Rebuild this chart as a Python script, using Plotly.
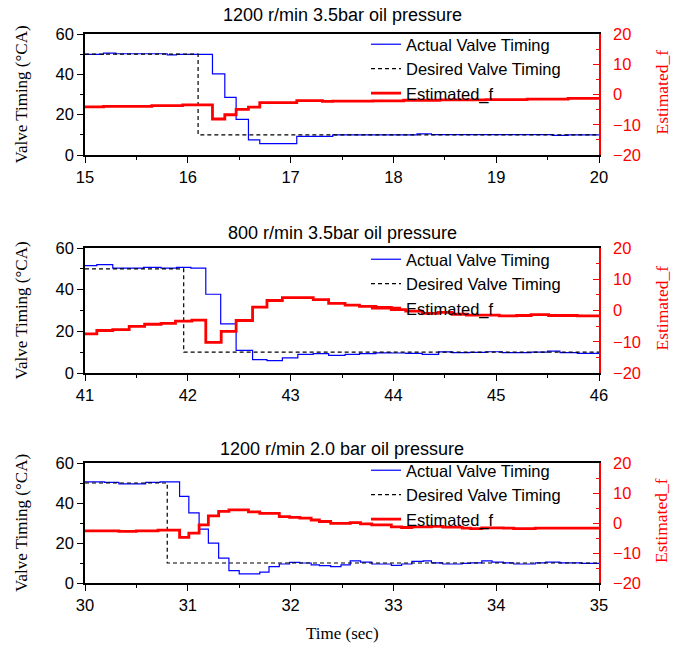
import plotly.graph_objects as go

# ---------------- data ----------------
# Panel 1: 1200 r/min 3.5bar oil pressure
act1_t = [15.0, 15.18, 15.30, 15.80, 15.89, 16.24, 16.36, 16.47, 16.59, 16.70, 17.06, 17.41, 18.23, 18.37, 19.55, 19.70, 20.0]
act1_v = [49.9, 50.5, 50.2, 49.6, 49.9, 40.2, 28.6, 17.7, 7.5, 5.6, 9.2, 10.0, 10.5, 10.1, 9.7, 10.0, 10.0]
des1_t = [15.0, 16.10, 20.0]
des1_v = [50.0, 10.0, 10.0]
est1_t = [15.0, 15.18, 15.65, 15.95, 16.24, 16.36, 16.47, 16.59, 16.70, 17.06, 17.31, 17.41, 17.80, 18.10, 18.45, 18.90, 19.30, 19.70, 20.0]
est1_f = [-4.1, -3.9, -3.7, -3.4, -8.1, -6.7, -4.9, -4.2, -2.7, -2.0, -2.3, -2.2, -2.1, -1.9, -1.8, -1.7, -1.5, -1.3, -1.3]

# Panel 2: 800 r/min 3.5bar oil pressure
act2_t = [41.0, 41.115, 41.27, 41.57, 41.74, 41.89, 42.03, 42.175, 42.32, 42.47, 42.63, 42.77, 42.92, 43.07,
          43.22, 43.37, 43.53, 43.67, 43.83, 43.98, 44.12, 44.28, 44.44, 44.57, 44.74, 44.90, 45.06, 45.20,
          45.34, 45.50, 45.62, 45.79, 46.0]
act2_v = [51.5, 52.0, 50.3, 50.7, 50.3, 50.7, 50.3, 37.8, 23.6, 10.9, 6.4, 5.9, 7.3, 8.9,
          9.3, 8.5, 8.9, 9.3, 9.7, 9.6, 9.4, 8.9, 10.1, 9.8, 9.9, 10.2, 9.8, 9.8,
          10.0, 10.5, 9.8, 9.4, 9.4]
des2_t = [41.0, 41.96, 46.0]
des2_v = [50.0, 10.0, 10.0]
est2_t = [41.0, 41.115, 41.27, 41.43, 41.58, 41.74, 41.88, 42.04, 42.175, 42.325, 42.47, 42.63, 42.77, 42.92,
          43.22, 43.37, 43.53, 43.67, 43.83, 43.98, 44.12, 44.28, 44.435, 44.57, 44.71, 45.03, 45.20, 45.34,
          45.51, 45.79, 46.0]
est2_f = [-7.5, -6.4, -6.1, -5.1, -4.4, -4.1, -3.4, -3.1, -10.2, -6.7, -3.2, 1.1, 3.2, 4.1,
          3.5, 2.3, 1.7, 1.3, 1.0, 0.3, -0.2, -0.9, -0.6, -1.2, -1.5, -1.7, -1.6, -1.3,
          -1.6, -1.7, -1.7]

# Panel 3: 1200 r/min 2.0 bar oil pressure
act3_t = [30.0, 30.19, 30.33, 30.59, 30.73, 30.92, 31.01, 31.11, 31.20, 31.30, 31.40, 31.50, 31.70, 31.79,
          31.89, 31.99, 32.09, 32.20, 32.28, 32.39, 32.49, 32.58, 32.68, 32.79, 32.98, 33.08, 33.18, 33.29,
          33.37, 33.48, 33.67, 33.75, 33.86, 33.96, 34.07, 34.17, 34.38, 34.48, 34.62, 34.83, 35.0]
act3_v = [50.6, 50.3, 49.6, 50.3, 50.6, 43.3, 35.1, 26.9, 19.9, 12.4, 6.2, 4.6, 5.4, 8.2,
          9.5, 10.3, 10.0, 9.1, 8.7, 8.2, 9.1, 11.1, 10.4, 9.5, 8.8, 9.5, 10.8, 11.1,
          10.1, 9.5, 9.8, 10.1, 11.1, 10.4, 10.1, 9.5, 10.1, 10.4, 10.1, 9.8, 9.8]
des3_t = [30.0, 30.80, 35.0]
des3_v = [50.0, 10.0, 10.0]
est3_t = [30.0, 30.33, 30.50, 30.71, 30.92, 31.01, 31.11, 31.20, 31.30, 31.40, 31.59, 31.70, 31.89, 31.99,
          32.09, 32.20, 32.28, 32.39, 32.58, 32.68, 32.79, 32.98, 33.08, 33.18, 33.37, 33.48, 33.67, 33.75,
          33.86, 34.07, 34.17, 34.38, 35.0]
est3_f = [-2.6, -2.8, -2.6, -2.4, -4.8, -3.35, -0.6, 2.4, 3.9, 4.4, 3.7, 3.2, 2.1, 1.9,
          1.6, 1.0, 0.5, -0.1, 0.1, -0.3, -0.6, -1.3, -1.5, -1.3, -1.1, -1.4, -1.7, -1.9,
          -1.6, -1.7, -1.9, -1.7, -1.7]

titles = ["1200 r/min 3.5bar oil pressure", "800 r/min 3.5bar oil pressure", "1200 r/min 2.0 bar oil pressure"]
x_ranges = [[15, 20], [41, 46], [30, 35]]
series = [
    (act1_t, act1_v, des1_t, des1_v, est1_t, est1_f),
    (act2_t, act2_v, des2_t, des2_v, est2_t, est2_f),
    (act3_t, act3_v, des3_t, des3_v, est3_t, est3_f),
]

# ---------------- layout geometry ----------------
W, H = 680, 649
x_left_px, x_right_px = 85, 599
panels_px = [(34, 155), (248, 373), (463, 583)]   # (top, bottom) in pixels
title_y_px = [15, 233, 449]
legend_top_px = [27, 242, 453]

def py(p):
    return 1 - p / H

def pxx(p):
    return p / W

fig = go.Figure()
layout = dict(
    width=W, height=H, autosize=False,
    margin=dict(l=0, r=0, t=0, b=0, pad=0, autoexpand=False),
    paper_bgcolor="white", plot_bgcolor="white",
    showlegend=True,
)
annotations = []
tickfont = dict(family="Liberation Sans, Arial", size=16.5, color="black")
redfont = dict(family="Liberation Sans, Arial", size=16.5, color="#FF0000")

for i in range(3):
    at, av, dt, dv, et, ef = series[i]
    xa = "x" if i == 0 else f"x{i+1}"
    ya = f"y{2*i+1}" if i > 0 else "y"
    yb = f"y{2*i+2}"
    leg = "legend" if i == 0 else f"legend{i+1}"
    top, bot = panels_px[i]
    dom_y = [py(bot), py(top)]

    fig.add_trace(go.Scatter(x=at, y=av, mode="lines", line=dict(color="#0000FF", width=1.2, shape="hv"),
                             name="Actual Valve Timing", xaxis=xa, yaxis=ya, legend=leg))
    fig.add_trace(go.Scatter(x=dt, y=dv, mode="lines", line=dict(color="black", width=1.2, shape="hv", dash="4px,3px"),
                             name="Desired Valve Timing", xaxis=xa, yaxis=ya, legend=leg))
    fig.add_trace(go.Scatter(x=et, y=ef, mode="lines", line=dict(color="#FF0000", width=2.8, shape="hv"),
                             name="Estimated_f", xaxis=xa, yaxis=yb, legend=leg))

    xkey = "xaxis" if i == 0 else f"xaxis{i+1}"
    yakey = "yaxis" if i == 0 else f"yaxis{2*i+1}"
    ybkey = f"yaxis{2*i+2}"
    layout[xkey] = dict(
        domain=[pxx(x_left_px), pxx(x_right_px)], anchor=ya, range=x_ranges[i], automargin=False,
        showgrid=False, zeroline=False, showline=True, linecolor="black", linewidth=1.5, mirror=True,
        ticks="outside", ticklen=6, tickwidth=1.2, tickcolor="black", dtick=1, tickfont=tickfont,
        minor=dict(dtick=0.5, ticks="outside", ticklen=3, tickwidth=1.2, tickcolor="black"),
    )
    layout[yakey] = dict(
        domain=dom_y, anchor=xa, range=[0, 60], automargin=False,
        showgrid=False, zeroline=False, showline=True, linecolor="black", linewidth=1.5,
        ticks="outside", ticklen=6, tickwidth=1.2, tickcolor="black", dtick=20, tickfont=tickfont,
        minor=dict(dtick=10, ticks="outside", ticklen=3, tickwidth=1.2, tickcolor="black"),
    )
    layout[ybkey] = dict(
        overlaying=ya, anchor=xa, side="right", range=[-20, 20], automargin=False,
        showgrid=False, zeroline=False, showline=True, linecolor="#FF0000", linewidth=1.5,
        ticks="inside", ticklen=6, tickwidth=1.2, tickcolor="#FF0000", dtick=10, tickfont=redfont,
        ticklabelstandoff=9,
        minor=dict(dtick=5, ticks="inside", ticklen=3, tickwidth=1.2, tickcolor="#FF0000"),
    )
    layout[leg] = dict(
        x=pxx(366), y=py(legend_top_px[i]), xanchor="left", yanchor="top",
        bgcolor="rgba(0,0,0,0)", borderwidth=0, tracegroupgap=0,
        font=dict(family="Liberation Sans, Arial", size=16.5, color="black"),
    )
    mid = (top + bot) / 2
    annotations.append(dict(text=titles[i], x=pxx((x_left_px + x_right_px) / 2), y=py(title_y_px[i]),
                            xref="paper", yref="paper", xanchor="center", yanchor="middle", showarrow=False,
                            font=dict(family="Liberation Sans, Arial", size=18, color="black")))
    annotations.append(dict(text="Valve Timing (°CA)", x=pxx(21), y=py(mid), textangle=-90,
                            xref="paper", yref="paper", xanchor="center", yanchor="middle", showarrow=False,
                            font=dict(family="Liberation Serif, Times New Roman", size=17, color="black")))
    annotations.append(dict(text="Estimated_f", x=pxx(661), y=py(mid - 2), textangle=-90,
                            xref="paper", yref="paper", xanchor="center", yanchor="middle", showarrow=False,
                            font=dict(family="Liberation Serif, Times New Roman", size=17.5, color="#FF0000")))

annotations.append(dict(text="Time (sec)", x=pxx(342), y=py(633), xref="paper", yref="paper",
                        xanchor="center", yanchor="middle", showarrow=False,
                        font=dict(family="Liberation Serif, Times New Roman", size=17, color="black")))
layout["annotations"] = annotations
fig.update_layout(**layout)
fig.write_html("out.html",
               post_script="document.body.style.margin='0px';document.body.style.padding='0px';"
                           "document.documentElement.style.margin='0px';")
